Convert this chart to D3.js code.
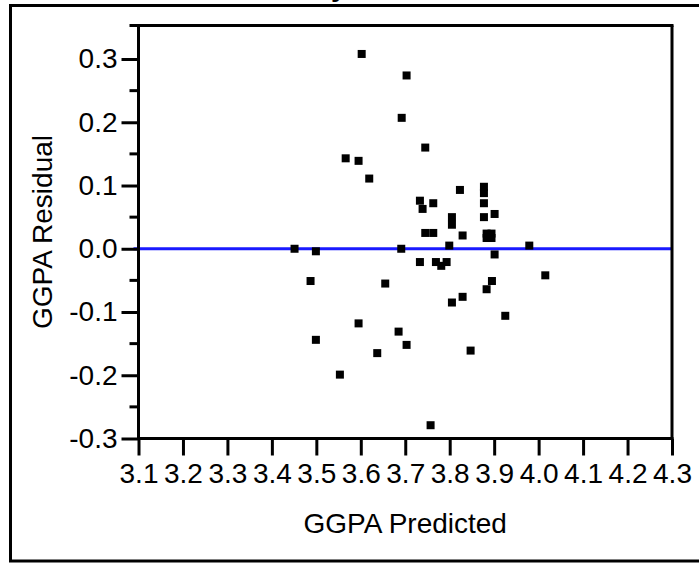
<!DOCTYPE html>
<html>
<head>
<meta charset="utf-8">
<script src="https://cdn.jsdelivr.net/npm/d3@7"></script>
<style>
  html, body { margin: 0; padding: 0; background: #fff; }
  svg { display: block; }
  text { font-family: "Liberation Sans", Arial, sans-serif; fill: #000; }
</style>
</head>
<body>
<svg id="chart" width="699" height="563"></svg>
<script>
// ---- data ----
const titleText = "Residual by Predicted Plot";
const xTitle = "GGPA Predicted";
const yTitle = "GGPA Residual";
const xTicks = [3.1, 3.2, 3.3, 3.4, 3.5, 3.6, 3.7, 3.8, 3.9, 4.0, 4.1, 4.2, 4.3];
const yTicks = [-0.3, -0.2, -0.1, 0.0, 0.1, 0.2, 0.3];
const yMinorTicks = [-0.25, -0.15, -0.05, 0.05, 0.15, 0.25, 0.35];
const predicted = [
  3.602, 3.703, 3.692, 3.745, 3.566, 3.595, 3.619,
  3.823, 3.877, 3.877, 3.733, 3.739, 3.763, 3.877, 3.805, 3.901, 3.877, 3.805,
  3.745, 3.763, 3.829, 3.883, 3.894, 3.883, 3.894,
  3.799, 3.691, 3.979, 3.901, 3.733, 3.769, 3.793, 3.781,
  3.655, 4.015, 3.895, 3.883, 3.829, 3.805,
  3.451, 3.499, 3.487, 3.925, 3.595, 3.685, 3.499, 3.703, 3.637, 3.847, 3.553, 3.757
];
const residual = [
  0.308, 0.274, 0.207, 0.160, 0.143, 0.139, 0.111,
  0.093, 0.098, 0.088, 0.076, 0.063, 0.072, 0.072, 0.050, 0.055, 0.050, 0.038,
  0.025, 0.025, 0.021, 0.024, 0.024, 0.017, 0.017,
  0.005, 0.000, 0.005, -0.009, -0.021, -0.021, -0.021, -0.027,
  -0.055, -0.042, -0.051, -0.064, -0.076, -0.085,
  0.000, -0.004, -0.051, -0.106, -0.118, -0.131, -0.144, -0.152, -0.165, -0.161, -0.199, -0.279
];
const zeroLine = [0];

// ---- layout ----
const svg = d3.select("#chart");
const pL = 138.5, pR = 672, pT = 25.5, pB = 438.5;
const x = d3.scaleLinear().domain([3.1, 4.3]).range([pL, pR]);
const y = d3.scaleLinear().domain([-0.3, 0.353]).range([pB, pT]);

// outer frame
svg.append("rect")
  .attr("x", 10.5).attr("y", 5.5).attr("width", 700).attr("height", 555.5)
  .attr("fill", "none").attr("stroke", "#000").attr("stroke-width", 3);

// partially visible title (clipped at the top, as in the reference)
svg.append("text")
  .attr("x", 366).attr("y", -4)
  .attr("text-anchor", "middle")
  .style("font-size", "28px").style("font-weight", "bold")
  .text(titleText);

// zero reference line
svg.selectAll(".zero").data(zeroLine).enter().append("line")
  .attr("x1", pL - 5).attr("x2", pR)
  .attr("y1", d => y(d)).attr("y2", d => y(d))
  .attr("stroke", "#1a1aff").attr("stroke-width", 3);

// points
svg.selectAll(".pt").data(predicted.map((p, i) => [p, residual[i]])).enter()
  .append("rect")
  .attr("x", d => x(d[0]) - 4).attr("y", d => y(d[1]) - 4)
  .attr("width", 8).attr("height", 8)
  .attr("fill", "#000");

// plot frame: top & right
svg.append("line").attr("x1", pL - 9).attr("x2", pR + 1.5)
  .attr("y1", pT).attr("y2", pT).attr("stroke", "#000").attr("stroke-width", 3);
svg.append("line").attr("x1", pR).attr("x2", pR)
  .attr("y1", pT).attr("y2", pB).attr("stroke", "#000").attr("stroke-width", 3);

// x axis
const xAxis = d3.axisBottom(x).tickValues(xTicks).tickSize(17).tickPadding(8)
  .tickFormat(d3.format(".1f")).tickSizeOuter(0);
const gx = svg.append("g").attr("transform", `translate(0,${pB})`).call(xAxis);
gx.select(".domain").attr("stroke", "#000").attr("stroke-width", 3)
  .attr("d", `M${pL - 1.5},0H${pR + 1.5}`);
gx.selectAll(".tick line").attr("stroke", "#000").attr("stroke-width", 3);
gx.selectAll(".tick text").style("font-size", "28px").style("font-family", "'Liberation Sans', Arial, sans-serif")
  .attr("fill", "#000");

// y axis
const yAxis = d3.axisLeft(y).tickValues(yTicks).tickSize(17).tickPadding(4)
  .tickFormat(d3.format(".1f")).tickSizeOuter(0);
const gy = svg.append("g").attr("transform", `translate(${pL},0)`).call(yAxis);
gy.select(".domain").attr("stroke", "#000").attr("stroke-width", 3)
  .attr("d", `M0,${pT - 1.5}V${pB + 1.5}`);
gy.selectAll(".tick line").attr("stroke", "#000").attr("stroke-width", 3);
gy.selectAll(".tick text").style("font-size", "28px").style("font-family", "'Liberation Sans', Arial, sans-serif")
  .attr("fill", "#000")
  .text(d => d3.format(".1f")(d).replace("−", "-"));

// y minor ticks
svg.selectAll(".ymin").data(yMinorTicks.filter(v => v < 0.34)).enter().append("line")
  .attr("x1", pL - 9).attr("x2", pL)
  .attr("y1", d => y(d)).attr("y2", d => y(d))
  .attr("stroke", "#000").attr("stroke-width", 3);

// axis titles
svg.append("text")
  .attr("x", (pL + pR) / 2).attr("y", 533)
  .attr("text-anchor", "middle").style("font-size", "28px")
  .text(xTitle);
svg.append("text")
  .attr("transform", `translate(52,${(pT + pB) / 2}) rotate(-90)`)
  .attr("text-anchor", "middle").style("font-size", "28px")
  .text(yTitle);
</script>
</body>
</html>
